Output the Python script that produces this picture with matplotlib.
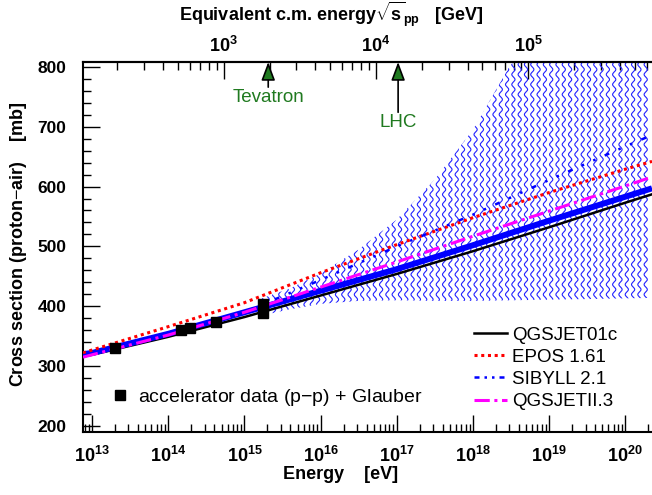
import numpy as np
import matplotlib.pyplot as plt
from matplotlib.ticker import MultipleLocator, FuncFormatter, FixedLocator, LogLocator, NullFormatter
from matplotlib.lines import Line2D

plt.rcParams['font.family'] = ['Liberation Sans', 'DejaVu Sans']
plt.rcParams['mathtext.fontset'] = 'custom'
plt.rcParams['mathtext.rm'] = 'Liberation Sans'
plt.rcParams['mathtext.bf'] = 'Liberation Sans:bold'
plt.rcParams['mathtext.it'] = 'Liberation Sans:italic'

# model predictions, energy in eV (log10) vs sigma_p-air in mb
log_e = [12.88, 13, 14, 15, 16, 17, 18, 19, 20, 20.35]
qgsjet01 = [316, 319, 349, 382, 418, 454, 492, 532, 573, 587]
epos = [322, 327, 366, 406, 456, 503, 548, 590, 629, 642]
sibyll = [318, 321, 355, 390, 444, 500, 553, 611, 667, 686]
qgsjet2 = [315, 319, 352, 390, 432, 474, 517, 559, 601, 616]
extrap = [320, 322, 354, 390, 426, 462, 502, 543, 583, 597]

# uncertainty band of the extrapolation
band_loge = [15.2, 15.6, 16.0, 16.5, 17.0, 17.5, 18.0, 18.5, 19.5, 20.35]
band_hi = [412, 430, 455, 495, 545, 612, 695, 805, 815, 815]
band_lo = [384, 395, 404, 409, 410, 409, 409, 410, 412, 414]

# accelerator data (p-p) converted with Glauber
acc_e = [2.0e13, 1.45e14, 1.9e14, 4.2e14, 1.73e15, 1.73e15]
acc_sigma = [331, 361, 364, 373, 389, 403]

colliders = ['Tevatron', 'LHC']
collider_e = [2.05e15, 1.04e17]

green = '#207a20'
m_p = 0.938


def e_to_sqrts(e):
    return np.sqrt(2 * m_p * np.asarray(e) / 1e9)


def sqrts_to_e(s):
    return np.asarray(s) ** 2 / (2 * m_p) * 1e9


def pow_label(v, p):
    return r'$\mathbf{10^{%d}}$' % round(np.log10(v))


fig = plt.figure(figsize=(6.52, 4.95), dpi=100)
ax = fig.add_axes([83 / 652, 1 - 432 / 495, 1 - 83 / 652, 370 / 495])

E = 10 ** np.array(log_e)
bandE = 10 ** np.array(band_loge)

xmin, xmax = 10 ** 12.88, 10 ** 20.35
ymin, ymax = 190, 808
ax.set_xscale('log')
ax.set_xlim(xmin, xmax)
ax.set_ylim(ymin, ymax)

# wavy blue hatching (ROOT fill style) clipped to the band
poly = ax.fill_between(bandE, band_lo, band_hi, facecolor='none', edgecolor='none')
clip = poly.get_paths()[0]
w_px, h_px = 569.0, 370.0
yy = np.linspace(0, h_px, 700)
for x0 in np.arange(2, w_px, 6.3):
    xs = (x0 + 1.6 * np.sin(2 * np.pi * yy / 10.0)) / w_px
    ln, = ax.plot(xs, yy / h_px, color='#2020ff', lw=0.8, transform=ax.transAxes, zorder=1)
    ln.set_clip_path(clip, ax.transData)

ax.plot(E, qgsjet01, color='black', lw=1.8, zorder=3)
ax.plot(E, extrap, color='#0000ff', lw=4.3, zorder=4, solid_capstyle='butt')
ax.plot(E, epos, color='#ff0000', lw=2.2, ls=(0, (1, 1.2)), zorder=5)
ax.plot(E, sibyll, color='#0000ff', lw=1.8, ls=(0, (2, 4, 1, 4, 1, 4)), zorder=5)
ax.plot(E, qgsjet2, color='#ff00ff', lw=2.2, ls=(0, (5, 1.5, 1, 1.5)), zorder=5)

ax.plot(acc_e, acc_sigma, 's', color='black', ms=7.5, zorder=6)

for name, e in zip(colliders, collider_e):
    tail = 766 if name == 'Tevatron' else 724
    ty = 749 if name == 'Tevatron' else 707
    ax.annotate('', xy=(e, ymax), xytext=(e, tail),
                arrowprops=dict(arrowstyle='-|>,head_length=0.8,head_width=0.3',
                                mutation_scale=14, facecolor=green,
                                edgecolor='black', lw=1.2, shrinkA=0, shrinkB=0),
                zorder=7)
    ax.text(e, ty, name, color=green, fontsize=13.5, ha='center', va='center')

# axes styling
for side in ['left', 'bottom', 'top']:
    ax.spines[side].set_linewidth(1.5)
ax.spines['right'].set_visible(False)
ax.yaxis.set_major_locator(MultipleLocator(100))
ax.yaxis.set_minor_locator(MultipleLocator(20))
ax.xaxis.set_major_locator(FixedLocator(10.0 ** np.arange(13, 21)))
ax.xaxis.set_minor_locator(LogLocator(base=10, subs=np.arange(2, 10), numticks=20))
ax.xaxis.set_minor_formatter(NullFormatter())
ax.xaxis.set_major_formatter(FuncFormatter(pow_label))
ax.tick_params(which='both', direction='in', top=False, right=False, width=1)
ax.tick_params(which='major', length=12, labelsize=13)
ax.tick_params(which='minor', length=6)
ax.tick_params(axis='x', which='major', pad=10)
ax.tick_params(axis='y', which='major', pad=12, labelsize=12.5)
for lab in ax.get_yticklabels():
    lab.set_fontweight('bold')

ax.set_xlabel('Energy    [eV]', fontsize=13, fontweight='bold')
ax.xaxis.set_label_coords(0.452, -0.093)
ax.set_ylabel('Cross section (proton$-$air)    [mb]', fontsize=13, fontweight='bold')
ax.yaxis.set_label_coords(-0.095, 0.508)

sec = ax.secondary_xaxis('top', functions=(e_to_sqrts, sqrts_to_e))
sec.set_xscale('log')
sec.xaxis.set_major_locator(FixedLocator([1e3, 1e4, 1e5]))
sec.xaxis.set_minor_locator(LogLocator(base=10, subs=np.arange(2, 10), numticks=20))
sec.xaxis.set_minor_formatter(NullFormatter())
sec.xaxis.set_major_formatter(FuncFormatter(pow_label))
sec.tick_params(which='both', direction='in', width=1)
sec.tick_params(which='major', length=12, labelsize=13, pad=4)
sec.tick_params(which='minor', length=6)
sec.spines['top'].set_linewidth(1.5)
sec.set_xlabel(r'Equivalent c.m. energy$\sqrt{\mathbf{s}}_{\mathbf{pp}}$   [GeV]',
               fontsize=13, fontweight='bold')
sec.xaxis.set_label_coords(0.436, 1.112, transform=ax.transAxes)

handles = [Line2D([], [], color='black', lw=1.8),
           Line2D([], [], color='#ff0000', lw=2.2, ls=(0, (1, 1.2))),
           Line2D([], [], color='#0000ff', lw=1.8, ls=(0, (2, 2, 1, 2, 1, 2))),
           Line2D([], [], color='#ff00ff', lw=2.2, ls=(0, (5, 1.5, 1, 1.5)))]
labels = ['QGSJET01c', 'EPOS 1.61', 'SIBYLL 2.1', 'QGSJETII.3']
leg = ax.legend(handles, labels, loc='upper left', bbox_to_anchor=(0.687, 0.285),
                frameon=False, fontsize=13.5, handlelength=1.75, handletextpad=0.3,
                labelspacing=0.27, borderaxespad=0, borderpad=0)
ax.add_artist(leg)
ax.legend([Line2D([], [], marker='s', ls='none', color='black', ms=7)],
          ['accelerator data (p$-$p) + Glauber'], loc='upper left',
          bbox_to_anchor=(0.05, 0.122), frameon=False, fontsize=14,
          handlelength=0.9, handletextpad=0.45, borderaxespad=0, borderpad=0)

fig.savefig('out.png', dpi=100)
